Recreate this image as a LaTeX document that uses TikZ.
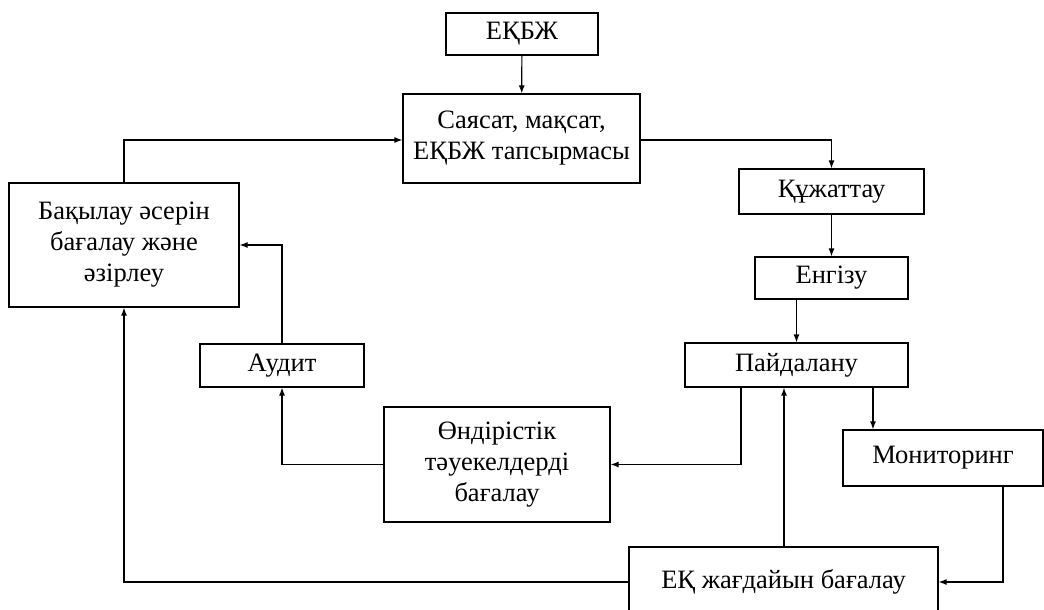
\documentclass[tikz,border=0pt]{standalone}
\usepackage{fontspec}
\setmainfont{Liberation Serif}
\usetikzlibrary{arrows.meta,positioning,calc}

\begin{document}
\begin{tikzpicture}[x=1pt, y=-1pt,
    box/.style={draw, rectangle, line width=1.2pt, align=center, inner sep=0pt,
        font=\fontsize{26.5}{31}\selectfont},
    flow/.style={-{Latex[length=8pt,width=6pt]}, line width=1.2pt}]
    \useasboundingbox (0,0) rectangle (1044,610);

    % Top boxes
    \node[box, minimum width=152pt, minimum height=42pt] (ekbzh) at (522,34) {ЕҚБЖ};
    \node[box, minimum width=237pt, minimum height=89pt] (policy) at (521.5,138.5) {Саясат, мақсат,\\ЕҚБЖ тапсырмасы};

    % Right column
    \node[box, minimum width=185pt, minimum height=45pt] (docs) at (831.5,191.5) {Құжаттау};
    \node[box, minimum width=153pt, minimum height=42pt] (intro) at (831.5,278) {Енгізу};
    \node[box, minimum width=223pt, minimum height=44pt] (usage) at (796.5,365) {Пайдалану};
    \node[box, minimum width=200pt, minimum height=56pt] (monitor) at (943,458) {Мониторинг};
    \node[box, minimum width=309pt, minimum height=70pt] (state) at (783.5,582) {ЕҚ жағдайын бағалау};

    % Left side
    \node[box, minimum width=230pt, minimum height=124pt] (control) at (124,245) {Бақылау әсерін\\бағалау және\\әзірлеу};
    \node[box, minimum width=164pt, minimum height=43pt] (audit) at (282,365.5) {Аудит};
    \node[box, minimum width=226pt, minimum height=115pt] (risk) at (497,464.5) {Өндірістік\\тәуекелдерді\\бағалау};

    % Connectors
    \draw[flow] (ekbzh) -- (policy);
    \draw[flow] (policy.east |- 0,140) -| (docs.north);
    \draw[flow] (docs) -- (intro);
    \draw[flow] (usage.north |- intro.south) -- (usage.north);
    \draw[flow] (741,0 |- usage.south) |- (risk.east);
    \draw[flow] (873,0 |- usage.south) -- (873,0 |- monitor.north);
    \draw[flow] (784,0 |- state.north) -- (784,0 |- usage.south);
    \draw[flow] (1003,0 |- monitor.south) |- (state.east);
    \draw[flow] (state.west) -| (control.south);
    \draw[flow] (risk.west) -| (audit.south);
    \draw[flow] (audit.north) |- (control.east);
    \draw[flow] (control.north) |- (policy.west |- 0,140);
\end{tikzpicture}
\end{document}
